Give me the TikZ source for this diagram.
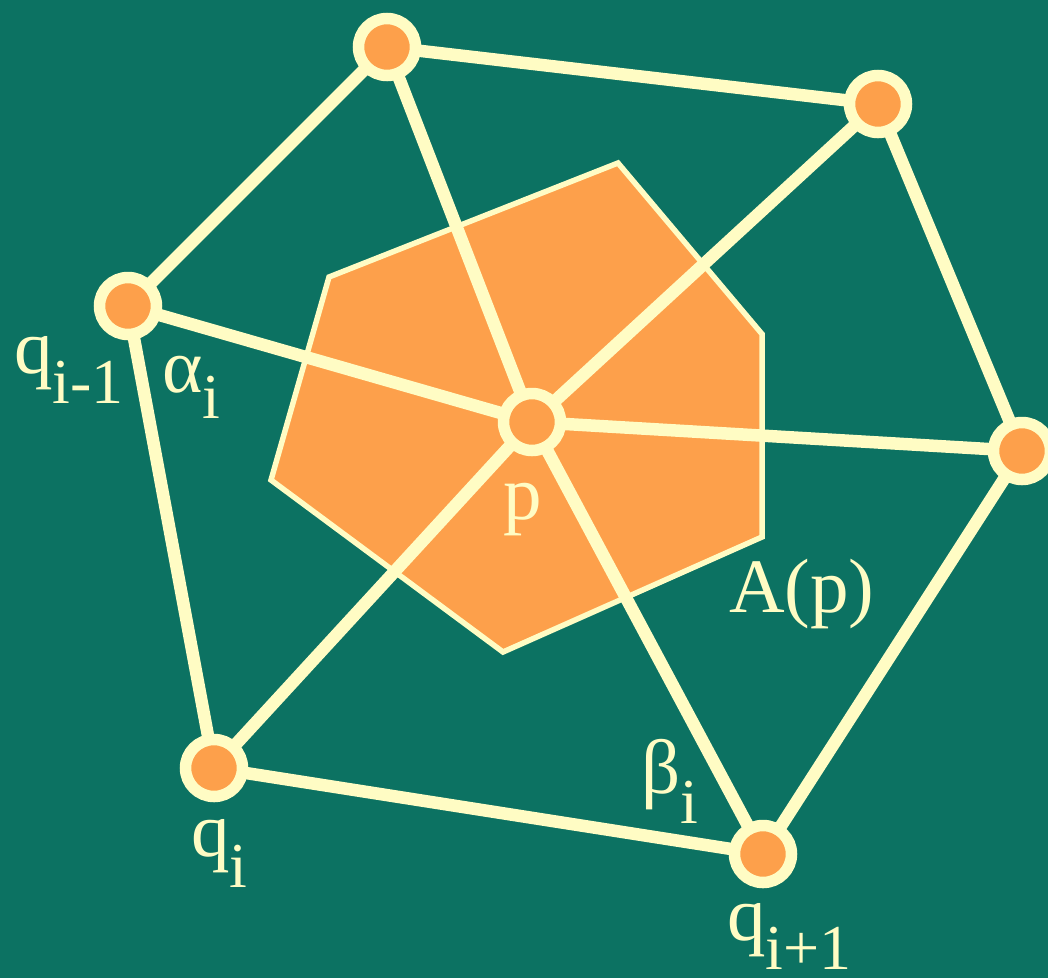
\documentclass[tikz,border=0pt]{standalone}
\usepackage{fontspec}
\setmainfont{Liberation Serif}
\usetikzlibrary{backgrounds}
\definecolor{bgteal}{HTML}{0C7262}
\definecolor{dotorange}{HTML}{FDA04B}
\definecolor{cream}{HTML}{FFFCC4}
\tikzset{
  vert/.style={circle, minimum size=57pt, inner sep=0pt, line width=11.5pt, draw=cream, fill=dotorange},
  linkline/.style={draw=cream, line width=12.5pt},
  cellpoly/.style={draw=cream, line width=5.5pt, fill=dotorange},
  lbl/.style={anchor=base west, inner sep=0pt, outer sep=0pt, text=cream, font=\fontsize{77}{80}\selectfont},
}
\newcommand{\sbs}[2][31pt]{\raisebox{-#1}{\fontsize{64}{70}\selectfont #2}}
\begin{document}
\begin{tikzpicture}[x=1pt,y=-1pt]
\useasboundingbox (0,0) rectangle (1048,978);
\node[vert] (T) at (387,47) {};
\node[vert] (TR) at (878,104) {};
\node[vert] (R) at (1022,451) {};
\node[vert] (BR) at (763,854) {};
\node[vert] (BL) at (214,768) {};
\node[vert] (L) at (128,306) {};
\node[vert] (P) at (532,422) {};
\node[lbl] (lqim) at (14,373) {q\sbs[30pt]{i-1}};
\node[lbl] (lal) at (162,392) {α\sbs[26pt]{i}};
\node[lbl] (lp) at (503,519) {p};
\node[lbl] (lA) at (729,612) {A(p)};
\node[lbl] (lbe) at (641,793) {β\sbs[30pt]{i}};
\node[lbl] (lqi) at (191,856) {q\sbs{i}};
\node[lbl] (lqip) at (727,940) {q\sbs[29pt]{i+1}};
\begin{pgfonlayer}{background}
\fill[bgteal] (0,0) rectangle (1048,978);
\draw[cellpoly] (329,277) -- (618,163) -- (762,334) -- (762,537) -- (503,652) -- (271,480) -- cycle;
\draw[linkline] (T.center) -- (TR.center) -- (R.center) -- (BR.center) -- (BL.center) -- (L.center) -- cycle;
\foreach \n in {T,TR,R,BR,BL,L} \draw[linkline] (P.center) -- (\n.center);
\end{pgfonlayer}
\end{tikzpicture}
\end{document}
